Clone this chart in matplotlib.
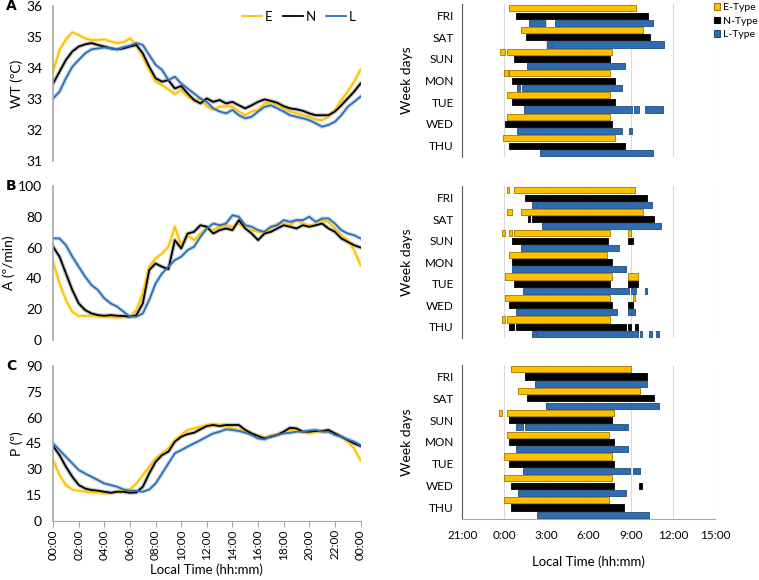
import numpy as np
import matplotlib.pyplot as plt
from matplotlib.patches import Patch

plt.rcParams['font.family'] = ['Lato', 'DejaVu Sans']

# time grid for the daily profiles (hours, every 30 min)
HOURS = np.arange(0, 24.5, 0.5)
XTICK_HOURS = list(range(0, 25, 2))
XTICK_LABELS = ['%02d:00' % (h % 24) for h in XTICK_HOURS]

# A - water temperature (deg C)
A_E = [33.88, 34.58, 34.92, 35.15, 35.06, 34.95, 34.9, 34.9, 34.92, 34.85, 34.8, 34.83, 34.95,
       34.74, 34.37, 33.94, 33.56, 33.45, 33.31, 33.16, 33.29, 33.08, 32.97, 33.02, 32.77, 32.65,
       32.75, 32.77, 32.75, 32.6, 32.48, 32.6, 32.65, 32.86, 32.9, 32.8, 32.7, 32.6, 32.54, 32.48,
       32.43, 32.34, 32.32, 32.43, 32.65, 32.97, 33.24, 33.56, 33.94]
A_N = [33.5, 33.88, 34.26, 34.53, 34.69, 34.76, 34.8, 34.74, 34.69, 34.63, 34.6, 34.63, 34.69,
       34.74, 34.47, 34.04, 33.67, 33.56, 33.61, 33.34, 33.42, 33.18, 32.97, 32.86, 33.02, 32.91,
       32.97, 32.86, 32.91, 32.8, 32.7, 32.8, 32.91, 32.99, 32.94, 32.88, 32.77, 32.7, 32.67, 32.62,
       32.54, 32.48, 32.48, 32.48, 32.6, 32.8, 33.02, 33.24, 33.5]
A_L = [33.02, 33.24, 33.67, 34.04, 34.26, 34.47, 34.6, 34.63, 34.66, 34.63, 34.6, 34.67, 34.72,
       34.8, 34.74, 34.42, 34.1, 33.94, 33.61, 33.72, 33.5, 33.34, 33.18, 33.02, 32.91, 32.7,
       32.6, 32.54, 32.65, 32.48, 32.38, 32.43, 32.6, 32.75, 32.8, 32.7, 32.6, 32.48, 32.43, 32.38,
       32.32, 32.22, 32.11, 32.17, 32.27, 32.48, 32.75, 32.91, 33.08]

# B - activity (deg/min)
B_E = [50.8, 36.7, 25.9, 18.3, 15.5, 15.6, 15.7, 15.3, 15.1, 14.8, 14.4, 14.8, 15.1, 19.4, 30.2,
       47.6, 53, 56.2, 60.6, 73.6, 61.6, 68.1, 64.9, 69.2, 72.5, 71.4, 73.6, 74.6, 73.6, 75.7,
       72.5, 71.4, 70.3, 69.2, 72.5, 75.7, 75.7, 74.6, 77.9, 75.7, 74.6, 74.6, 77.9, 76.8, 72.5,
       68.1, 64.9, 58.4, 48.6]
B_N = [60.6, 54.1, 43.2, 32.4, 23.7, 19.4, 17.2, 16.1, 15.7, 16.1, 15.7, 15.5, 15.1, 16.1, 23.7,
       45.4, 49.7, 47.6, 46, 64.9, 59.5, 69.2, 70.3, 74.6, 73.6, 69.2, 71.4, 72.5, 71.4, 77.9,
       72.5, 69.2, 64.9, 69.2, 70.3, 72.5, 74.6, 73.6, 72.5, 74.6, 73.6, 74.6, 75.7, 72.5, 70.3,
       66, 63.8, 61.6, 60.1]
B_L = [66, 66, 61.6, 54.1, 47.6, 41.1, 35.6, 32.4, 27, 23.7, 21.6, 18.3, 15.1, 15.1, 17.2, 25.9,
       36.7, 43.2, 47.6, 51.9, 54.1, 58.4, 60.6, 67.1, 72.5, 75.7, 74.6, 75.7, 81.1, 80.1, 74.6,
       73.6, 71.4, 70.3, 73.6, 74.6, 77.9, 76.8, 77.9, 77.9, 80.1, 76.8, 79, 79, 75.7, 71.4, 69.2,
       68.1, 66]

# C - posture (deg)
C_E = [35.3, 26.6, 20.8, 18.2, 17.5, 16.9, 16.5, 16.5, 15.9, 16.3, 16.9, 17.9, 18.2, 21.7, 26.6,
       31.4, 36.3, 39.2, 42.1, 46.9, 49.9, 52.8, 53.7, 54.7, 55.7, 56.1, 55.7, 54.7, 53.7, 52.8,
       52.8, 50.8, 49.3, 48.5, 49.3, 50.4, 51.8, 52.8, 52.4, 51.8, 50.8, 51.8, 51.8, 51.8, 50.8,
       48.9, 46, 42.1, 35.3]
C_N = [43.5, 38.2, 31.4, 25.6, 20.8, 18.8, 17.9, 17.5, 16.9, 16.3, 16.9, 16.9, 16.3, 16.5, 19.8,
       27.5, 34.3, 38.2, 40.2, 46, 48.9, 50.4, 51.2, 53.2, 55.1, 55.7, 55.1, 55.7, 55.7, 55.7,
       52.8, 50.8, 49.3, 47.9, 48.9, 49.9, 51.8, 54.1, 53.7, 51.8, 51.8, 52.2, 52.2, 52.8, 50.8,
       48.9, 46.9, 45, 43.5]
C_L = [45, 41.1, 37.2, 33.4, 29.5, 27.5, 25.6, 23.7, 21.7, 20.8, 19.8, 18.2, 17.5, 17.5, 16.9,
       18.2, 21.7, 27.5, 33.4, 39.2, 41.1, 43.1, 45, 46.9, 48.9, 50.8, 51.8, 53.2, 52.8, 52.2,
       51.2, 49.9, 47.9, 47.3, 49.3, 49.9, 50.8, 51.2, 51.8, 51.8, 52.4, 52.8, 51.8, 51.8, 49.9,
       48.9, 47.3, 46, 44]

# resting periods per weekday, (start, end) in hours relative to midnight
DAYS = ['FRI', 'SAT', 'SUN', 'MON', 'TUE', 'WED', 'THU']
R1_E = [[(0.35, 9.39)], [(1.2, 9.9)], [(-0.28, 0.02), (0.21, 7.68)], [(0.0, 0.24), (0.35, 7.54)],
        [(0.21, 7.52)], [(0.21, 7.52)], [(-0.12, 7.85)]]
R1_N = [[(0.85, 10.2)], [(1.54, 10.35)], [(0.71, 7.52)], [(0.54, 7.87)],
        [(0.54, 7.87)], [(0.02, 7.7)], [(0.35, 8.56)]]
R1_L = [[(1.75, 2.93), (3.6, 10.6)], [(3.05, 3.29), (3.38, 11.4)], [(1.58, 8.6)],
        [(0.9, 1.09), (1.28, 8.39)], [(1.42, 9.1), (9.22, 9.6), (10.05, 11.28)],
        [(0.9, 8.39), (8.89, 9.1)], [(2.55, 10.6)]]

R2_E = [[(0.17, 0.35), (0.69, 9.31)], [(0.17, 0.57), (1.2, 9.86)],
        [(-0.14, 0.02), (0.35, 0.54), (0.69, 7.52), (8.84, 9.0)], [(0.35, 7.33)],
        [(0.02, 7.68), (8.84, 9.53)], [(0.02, 7.52), (9.15, 9.31)], [(-0.14, 0.02), (0.17, 7.52)]]
R2_N = [[(1.49, 10.17)], [(1.7, 1.84), (2.0, 10.69)], [(0.54, 7.35), (8.84, 9.17)], [(0.54, 7.68)],
        [(0.69, 7.52), (8.84, 9.5)], [(0.35, 7.68), (8.84, 9.17)],
        [(0.35, 0.69), (0.85, 8.68), (8.84, 9.0), (9.31, 9.5)]]
R2_L = [[(1.99, 2.22), (2.32, 10.52)], [(2.65, 11.18)], [(1.2, 8.18)], [(0.54, 8.68)],
        [(1.35, 8.91), (9.0, 9.34), (10.0, 10.14)], [(0.85, 8.04), (8.84, 9.31)],
        [(1.99, 2.22), (2.32, 9.53), (9.67, 9.81), (10.31, 10.5), (10.8, 10.99)]]

R3_E = [[(0.5, 9.0)], [(1.0, 9.65)], [(-0.35, -0.14), (0.17, 7.8)], [(0.17, 7.47)],
        [(0.0, 7.66)], [(0.0, 7.66)], [(0.0, 7.47)]]
R3_N = [[(1.49, 10.14)], [(1.63, 10.69)], [(0.31, 7.66)], [(0.31, 7.8)],
        [(0.31, 7.8)], [(0.5, 7.8), (9.62, 9.81)], [(0.5, 8.49)]]
R3_L = [[(2.15, 10.14)], [(2.98, 10.99)], [(0.8, 1.35), (1.47, 8.49), (8.6, 8.79)], [(0.8, 8.79)],
        [(1.32, 8.98), (9.13, 9.31), (9.4, 9.65)], [(1.0, 8.63)], [(2.34, 10.31)]]

RTICK_HOURS = [-3, 0, 3, 6, 9, 12, 15]
RTICK_LABELS = ['21:00', '0:00', '3:00', '6:00', '9:00', '12:00', '15:00']

YELLOW = '#FFC000'
BLUE = '#2E6DB4'
LIGHT = {'E': '#FFE08A', 'N': '#9A9A9A', 'L': '#9DC3E6'}
BAR_EDGE = {'E': '#A07800', 'N': '#000000', 'L': '#1F4E79'}
COLORS = {'E': YELLOW, 'N': '#000000', 'L': BLUE}

fig = plt.figure(figsize=(7.59, 5.8), dpi=100)

# ---- left column: daily profiles
left_specs = [
    ('A', [0.070, 0.722, 0.405, 0.268], (A_E, A_N, A_L), (31, 36), np.arange(31, 37, 1), 'WT (ºC)'),
    ('B', [0.070, 0.414, 0.405, 0.265], (B_E, B_N, B_L), (0, 100), np.arange(0, 101, 20), 'A (º/min)'),
    ('C', [0.070, 0.102, 0.405, 0.267], (C_E, C_N, C_L), (0, 90), np.arange(0, 91, 15), 'P (º)'),
]
for letter, rect, series, ylim, yticks, ylabel in left_specs:
    ax = fig.add_axes(rect)
    for key, vals in zip('ENL', series):
        ax.plot(HOURS, vals, color=LIGHT[key], lw=3.0, alpha=0.6, zorder=1)
    for key, vals in zip('ENL', series):
        ax.plot(HOURS, vals, color=COLORS[key], lw=1.3, label=key, zorder=2)
    ax.set_xlim(0, 24)
    ax.set_ylim(*ylim)
    ax.set_yticks(yticks)
    ax.tick_params(axis='y', length=0, labelsize=10, pad=8)
    for s in ['top', 'right']:
        ax.spines[s].set_visible(False)
    ax.spines['left'].set_color('#A6A6A6')
    ax.spines['left'].set_linewidth(1.2)
    ax.set_ylabel(ylabel, fontsize=10, labelpad=2)
    if letter == 'C':
        ax.spines['bottom'].set_color('#A6A6A6')
        ax.set_xticks(XTICK_HOURS)
        ax.set_xticklabels(XTICK_LABELS, rotation=90, fontsize=8.5)
        ax.tick_params(axis='x', length=4, color='#A6A6A6', pad=2)
        ax.set_xlabel('Local Time (hh:mm)', fontsize=9.5, labelpad=3)
    else:
        ax.spines['bottom'].set_visible(False)
        ax.set_xticks([])
    fig.text(0.008, rect[1] + rect[3], letter, fontsize=10, fontweight='bold',
             family='DejaVu Sans', va='center')
    if letter == 'A':
        ax.legend(loc='upper right', ncol=3, frameon=False, fontsize=9.5, handlelength=1.5,
                  columnspacing=0.8, handletextpad=0.2, borderaxespad=0.0,
                  bbox_to_anchor=(1.0, 1.0))

# ---- right column: resting bars per weekday
right_specs = [
    ([0.609, 0.729, 0.333, 0.264], (R1_E, R1_N, R1_L)),
    ([0.609, 0.417, 0.333, 0.262], (R2_E, R2_N, R2_L)),
    ([0.609, 0.105, 0.333, 0.266], (R3_E, R3_N, R3_L)),
]
for i, (rect, groups) in enumerate(right_specs):
    ax = fig.add_axes(rect)
    for j, (key, data) in enumerate(zip('ENL', groups)):
        for d, segs in enumerate(data):
            spans = [(s, e - s) for s, e in segs]
            ax.broken_barh(spans, (3 * d + j - 0.42, 0.84), facecolors=COLORS[key],
                           edgecolors=BAR_EDGE[key], linewidth=0.6, zorder=3)
    ax.set_xlim(-3, 15)
    ax.set_ylim(20.6, -0.6)
    ax.set_yticks([3 * d + 1 for d in range(len(DAYS))])
    ax.set_yticklabels(DAYS, fontsize=8.5)
    ax.tick_params(axis='y', length=0, pad=6)
    ax.set_xticks(RTICK_HOURS)
    ax.grid(axis='x', color='#D9D9D9', lw=0.8, zorder=0)
    for s in ['top', 'right']:
        ax.spines[s].set_visible(False)
    ax.spines['left'].set_color('#595959')
    ax.set_ylabel('Week days', fontsize=10, labelpad=8)
    if i == 2:
        ax.set_xticklabels(RTICK_LABELS, fontsize=8.5)
        ax.tick_params(axis='x', length=0, pad=8)
        ax.spines['bottom'].set_color('#A6A6A6')
        ax.set_xlabel('Local Time (hh:mm)', fontsize=9.5, labelpad=10)
    else:
        ax.tick_params(axis='x', length=0, labelbottom=False)
        ax.spines['bottom'].set_visible(False)

handles = [Patch(facecolor=COLORS[k], edgecolor=BAR_EDGE[k], lw=0.8) for k in 'ENL']
fig.legend(handles, ['E-Type', 'N-Type', 'L-Type'], loc='upper right', bbox_to_anchor=(0.998, 0.995),
           frameon=False, fontsize=7.5, handlelength=0.6, handleheight=0.6, handletextpad=0.25,
           labelspacing=0.45, borderaxespad=0, borderpad=0)

fig.savefig('out.png', dpi=100)
